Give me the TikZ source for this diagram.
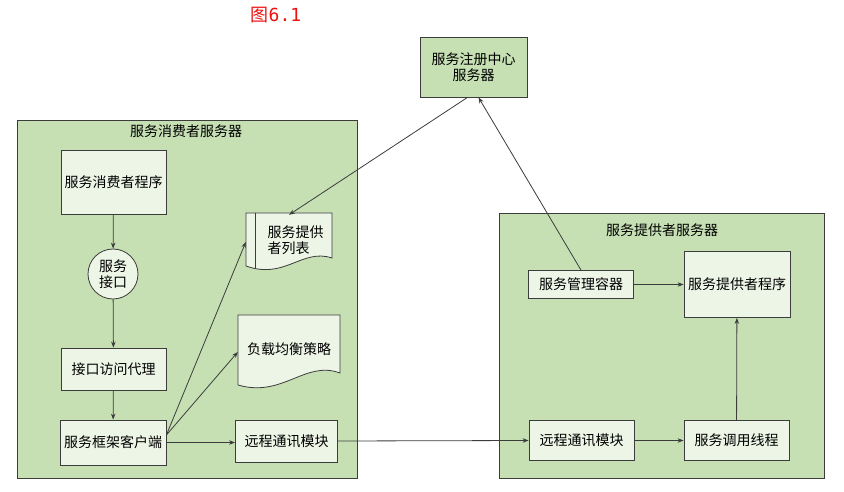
\documentclass[tikz,border=0pt]{standalone}
\usepackage{fontspec}
\setmainfont{Noto Sans CJK SC}
\newfontfamily\monofont{DejaVu Sans Mono}
\usetikzlibrary{arrows.meta}
\definecolor{outergreen}{HTML}{C6E0B4}
\definecolor{innergreen}{HTML}{EDF5E6}
\definecolor{edgegray}{HTML}{3C3C3C}
\definecolor{titlered}{HTML}{F01010}
\tikzset{
  every node/.style={font=\fontsize{14}{16.5}\selectfont, text=black},
  server/.style={draw=edgegray, fill=outergreen, line width=0.8pt},
  box/.style={draw=edgegray, fill=innergreen, line width=0.8pt, inner sep=0pt, align=center},
  doc/.style={draw=edgegray, fill=innergreen, line width=0.8pt},
  conn/.style={draw=edgegray, line width=0.8pt, -{Stealth[length=6pt,width=4.5pt]}},
  plain/.style={draw=edgegray, line width=0.8pt}
}
\begin{document}
\begin{tikzpicture}[x=1pt,y=-1pt]
\useasboundingbox[fill=white] (0,0) rectangle (844,492);
% title
\node[text=titlered, font=\fontsize{18}{20}\selectfont] (title) at (276,15) {图{\monofont 6.1}};
% registry
\node[box, fill=outergreen, minimum width=107pt, minimum height=60pt] (reg) at (473.5,67) {服务注册中心\\服务器};
% server containers
\draw[server] (17,120) rectangle (357,478);
\node (constitle) at (186,131) {服务消费者服务器};
\draw[server] (499,213) rectangle (824,478);
\node (provtitle) at (662,230) {服务提供者服务器};
% consumer side
\node[box, minimum width=105pt, minimum height=64pt] (cprog) at (113.5,182) {服务消费者程序};
\node[box, circle, minimum size=50pt, font=\fontsize{14}{15.5}\selectfont] (iface) at (113,274) {服务\\接口};
\node[box, minimum width=105pt, minimum height=42pt] (proxy) at (113.5,369) {接口访问代理};
\node[box, minimum width=106pt, minimum height=45pt] (client) at (113,442.5) {服务框架客户端};
\node[box, minimum width=102pt, minimum height=42pt] (rcoml) at (286.5,441) {远程通讯模块};
% provider list document
\draw[doc] (246,213) -- (332,213) -- (332,258) .. controls (302,248) and (285,280) .. (246,266) -- cycle;
\draw[plain] (255,213) -- (255,268);
\node[draw=none, minimum width=86pt, minimum height=54pt, inner sep=0pt] (list) at (289,242) {};
\node[align=left, anchor=west] (listtext) at (264,240) {服务提供\\者列表};
% load balance document
\draw[doc] (238,315) -- (340,315) -- (340,373) .. controls (305,360) and (283,398) .. (238,385) -- cycle;
\node[draw=none, minimum width=102pt, minimum height=70pt, inner sep=0pt] (lb) at (289,352) {};
\node (lbtext) at (289,349) {负载均衡策略};
% provider side
\node[box, minimum width=105pt, minimum height=28pt] (mgr) at (581,284.5) {服务管理容器};
\node[box, minimum width=106pt, minimum height=66pt] (pprog) at (737,284.5) {服务提供者程序};
\node[box, minimum width=105pt, minimum height=40pt] (rcomr) at (581.5,440.5) {远程通讯模块};
\node[box, minimum width=105pt, minimum height=40pt] (invoke) at (736.5,440.5) {服务调用线程};
% connectors
\draw[conn] (cprog) -- (iface);
\draw[conn] (iface) -- (proxy);
\draw[conn] (proxy) -- (client);
\draw[conn] (client.8) -- (list.west);
\draw[conn] (client.8) -- (lb.west);
\draw[conn] (client.east) -- (rcoml.west |- client.east);
\draw[conn] (rcoml.east) -- (rcomr.west);
\draw[conn] (rcomr) -- (invoke);
\draw[conn] (invoke) -- (pprog);
\draw[conn] (mgr) -- (pprog);
\draw[conn] (mgr.north) -- ([xshift=5pt]reg.south);
\draw[conn] ([xshift=-6pt]reg.south) -- (list.north);
\end{tikzpicture}
\end{document}
